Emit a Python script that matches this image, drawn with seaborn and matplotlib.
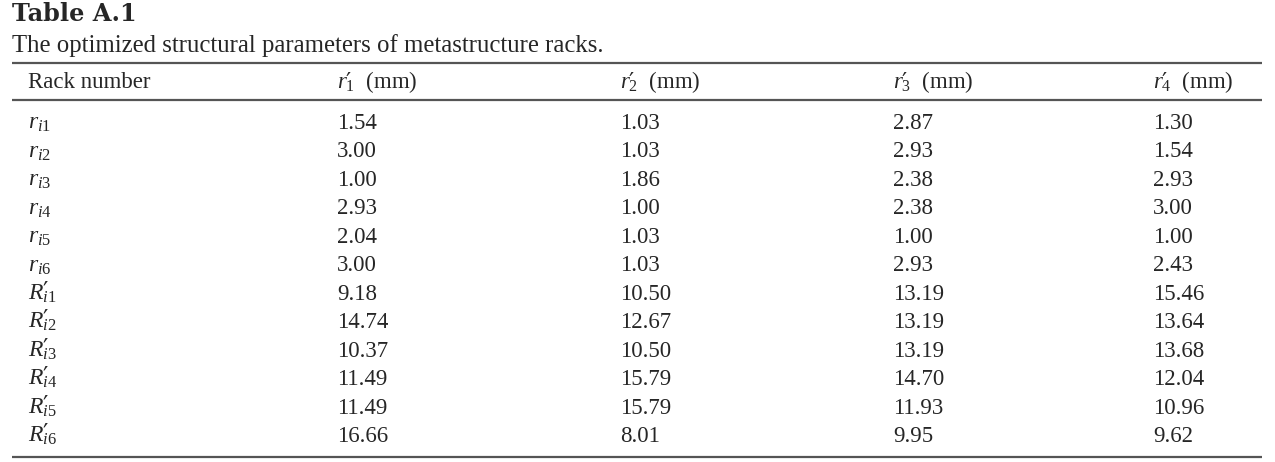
import matplotlib
matplotlib.use("Agg")
import matplotlib.pyplot as plt
import seaborn as sns

# table contents
title = "Table A.1"
subtitle = "The optimized structural parameters of metastructure racks."
P = r"\mathsf{′}\!\!"
headers = ["Rack number", rf"$r{P}_1$  (mm)", rf"$r{P}_2$  (mm)", rf"$r{P}_3$  (mm)", rf"$r{P}_4$  (mm)"]
racks = [r"$r_{i1}$", r"$r_{i2}$", r"$r_{i3}$", r"$r_{i4}$", r"$r_{i5}$", r"$r_{i6}$",
         rf"$R{P}_{{i1}}$", rf"$R{P}_{{i2}}$", rf"$R{P}_{{i3}}$", rf"$R{P}_{{i4}}$",
         rf"$R{P}_{{i5}}$", rf"$R{P}_{{i6}}$"]
r1 = ["1.54", "3.00", "1.00", "2.93", "2.04", "3.00", "9.18", "14.74", "10.37", "11.49", "11.49", "16.66"]
r2 = ["1.03", "1.03", "1.86", "1.00", "1.03", "1.03", "10.50", "12.67", "10.50", "15.79", "15.79", "8.01"]
r3 = ["2.87", "2.93", "2.38", "2.38", "1.00", "2.93", "13.19", "13.19", "13.19", "14.70", "11.93", "9.95"]
r4 = ["1.30", "1.54", "2.93", "3.00", "1.00", "2.43", "15.46", "13.64", "13.68", "12.04", "10.96", "9.62"]

sns.set_theme(style="white")
plt.rcParams["font.family"] = ["Liberation Serif", "DejaVu Serif"]
plt.rcParams["mathtext.fontset"] = "custom"
plt.rcParams["mathtext.rm"] = "Liberation Serif"
plt.rcParams["mathtext.it"] = "Liberation Serif:italic"
plt.rcParams["mathtext.bf"] = "Liberation Serif:bold"
plt.rcParams["mathtext.sf"] = "DejaVu Serif"

W, H = 1275, 462
fig = plt.figure(figsize=(W / 100, H / 100), dpi=100)
ax = fig.add_axes([0, 0, 1, 1])
ax.set_xlim(0, W)
ax.set_ylim(H, 0)
ax.axis("off")

fs = 16.5
ax.text(12, 21, title, fontsize=17.3, fontweight="bold", family="DejaVu Serif", va="baseline")
ax.text(12, 52, subtitle, fontsize=17.8, va="baseline")

for y in [63, 100, 457]:
    ax.plot([12, 1262], [y, y], color="#555555", lw=1.6, solid_capstyle="butt")

col_x = [28, 337, 620, 893, 1153]
for x, h in zip(col_x, headers):
    ax.text(x, 88, h, fontsize=fs, va="baseline")

cols = [racks, r1, r2, r3, r4]
step = 28.45
for i in range(len(racks)):
    yb = 129 + i * step
    for j, col in enumerate(cols):
        ax.text(col_x[j], yb, col[i], fontsize=fs + (0.5 if j == 0 else 0), va="baseline")

fig.savefig("out.png", dpi=100)
